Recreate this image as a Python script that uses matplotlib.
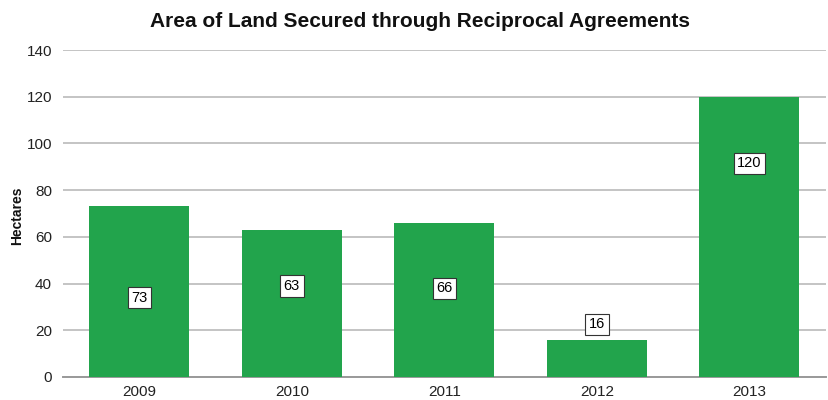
import matplotlib.pyplot as plt

years = ["2009", "2010", "2011", "2012", "2013"]
hectares = [73, 63, 66, 16, 120]
# where each value box sits (in data units)
label_y = [34, 39, 38, 22.5, 91.5]

plt.rcParams['font.family'] = ['Liberation Sans', 'DejaVu Sans']

fig = plt.figure(figsize=(8.29, 4.0), dpi=100)
ax = fig.add_axes([0.076, 0.0575, 0.92, 0.8175])

x = range(len(years))
ax.bar(x, hectares, width=0.655, color="#22a44c", zorder=3)

for xi, v, ly in zip(x, hectares, label_y):
    ax.text(xi, ly, str(v), ha="center", va="center", fontsize=10.5, zorder=4,
            bbox=dict(boxstyle="square,pad=0.25", fc="white", ec="#333333", lw=0.8))

ax.set_xlim(-0.5, len(years) - 0.5)
ax.set_ylim(0, 140)
ax.set_yticks(range(0, 141, 20))
ax.set_xticks(list(x))
ax.set_xticklabels(years)
ax.tick_params(axis="both", length=0, labelsize=11, colors="#222222")
ax.tick_params(axis="y", pad=8)
ax.tick_params(axis="x", pad=6)

ax.grid(axis="y", color="#c4c4c4", lw=1.4, zorder=0)
for s in ["top", "right", "left"]:
    ax.spines[s].set_visible(False)
ax.spines["bottom"].set_color("#999999")
ax.spines["bottom"].set_linewidth(1.4)

fig.text(17 / 829, 0.46, "Hectares", rotation=90, ha="center", va="center",
         fontsize=10, fontweight="bold", color="#111111")
fig.text(0.507, 0.947, "Area of Land Secured through Reciprocal Agreements",
         ha="center", va="center", fontsize=15, fontweight="bold", color="#111111")

fig.savefig("out.png", dpi=100)
